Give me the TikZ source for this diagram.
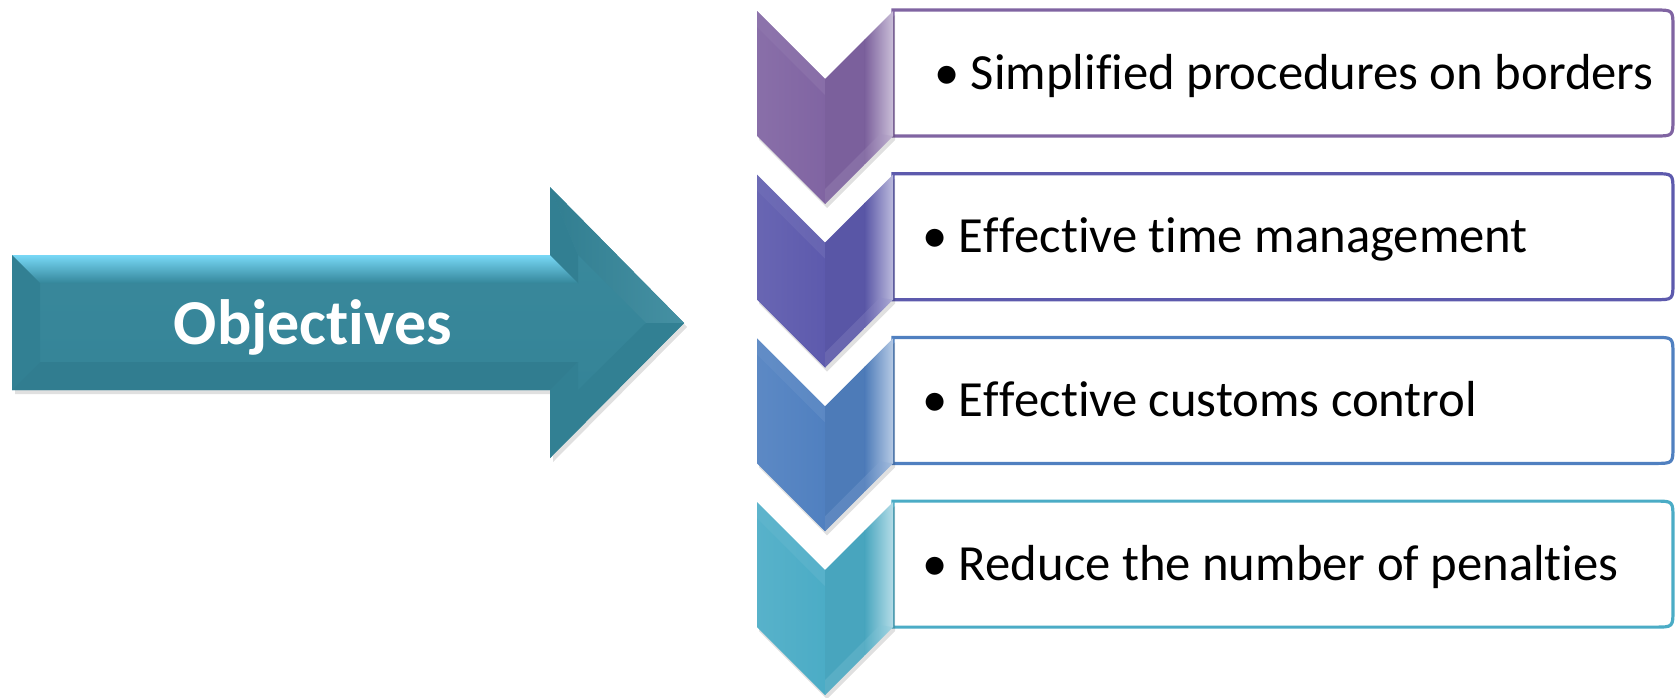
\documentclass[tikz,border=0pt]{standalone}
\usepackage{fontspec}
\setmainfont{Carlito}[Ligatures={NoCommon,NoRequired,NoContextual}, Contextuals={NoAlternate}, RawFeature={-liga;-clig;-dlig;-calt;-rlig;-hlig}]
\newcommand{\zk}{\kern0pt }
\definecolor{cA}{HTML}{8064A2}
\definecolor{cB}{HTML}{5D5AAD}
\definecolor{cC}{HTML}{5080C0}
\definecolor{cD}{HTML}{4BACC6}
\definecolor{arBase}{HTML}{35879B}
\definecolor{arLight}{HTML}{78D8F6}
\tikzset{
  boxline/.style={line width=2.4pt, fill=white},
  itemtext/.style={anchor=base west, inner sep=0pt, font=\fontsize{38}{44}\selectfont, text=black},
  headtext/.style={anchor=base, inner sep=0pt, font=\fontsize{48}{56}\selectfont\bfseries, text=white},
}
% #1 = top y (px), #2 = colour
\newcommand{\mychevron}[2]{%
  \fill[black, opacity=0.12] (759,#1+4) -- (827,#1+72) -- (895,#1+4) -- (895,#1+129) -- (827,#1+197) -- (759,#1+129) -- cycle;
  \begin{scope}
    \clip (757,#1) -- (825,#1+68) -- (893,#1) -- (893,#1+125) -- (825,#1+193) -- (757,#1+125) -- cycle;
    \shade[left color=#2!93!white, right color=#2] (757,#1) rectangle (825.5,#1+193);
    \fill[#2!85!white, opacity=0.45] (757,#1) -- (825,#1+68) -- (825,#1+84) -- (767,#1+26) -- (757,#1+16) -- cycle;
    \fill[#2!96!black] (825,#1) rectangle (865,#1+193);
    \shade[left color=#2!96!black, right color=#2!42!white] (864.5,#1) rectangle (893,#1+193);
    \fill[#2!70!white, opacity=0.3] (893,#1+125) -- (825,#1+193) -- (825,#1+178) -- (880,#1+123) -- cycle;
  \end{scope}
}
% #1 = top y, #2 = colour
\newcommand{\mybox}[2]{%
  \draw[boxline, draw=#2] (893,#1) -- (1655,#1) .. controls (1673,#1) .. (1673,#1+18)
    -- (1673,#1+108) .. controls (1673,#1+126) .. (1655,#1+126) -- (893,#1+126) -- cycle;
}
\begin{document}
\begin{tikzpicture}[x=0.75pt, y=-0.75pt]
\useasboundingbox (0,0) rectangle (1677,697);

% ---- big arrow ----
\fill[black, opacity=0.12] (15,259) -- (553,259) -- (553,191) -- (687,327) -- (553,462) -- (553,394) -- (15,394) -- cycle;
\shade[top color=arBase!97!white, bottom color=arBase!96!black]
  (12,255) -- (550,255) -- (550,187) -- (684,323) -- (550,458) -- (550,390) -- (12,390) -- cycle;
% top body bevel
\shade[top color=arLight, bottom color=arBase] (12,255) -- (550,255) -- (578,283) -- (40,283) -- cycle;
% left bevel
\fill[arBase!95!black] (12,255) -- (40,283) -- (40,362) -- (12,390) -- cycle;
% bottom bevel
\fill[arBase!93!black] (12,390) -- (40,362) -- (578,362) -- (550,390) -- cycle;
% head base facets
\fill[arBase!94!black] (550,255) -- (550,187) -- (578,255) -- (578,283) -- cycle;
\fill[arBase!95!black] (550,390) -- (550,458) -- (578,390) -- (578,362) -- cycle;
% head diagonal facets
\shade[left color=arBase!93!black, right color=arBase!92!white] (550,187) -- (684,323) -- (646,323) -- (578,255) -- cycle;
\fill[arBase!95!black] (550,458) -- (684,323) -- (646,323) -- (578,390) -- cycle;
\node[headtext] (obj) at (313,344) {Objec\zk t\zk ives};

% ---- boxes ----
\mybox{10}{cA}
\mybox{173.7}{cB}
\mybox{337.4}{cC}
\mybox{501.1}{cD}

% ---- chevrons ----
\mychevron{11}{cA}
\mychevron{174.7}{cB}
\mychevron{338.4}{cC}
\mychevron{502.1}{cD}

% ---- texts ----
\node[itemtext] (t1) at (934,89) {• Simpli\zk f\zk ied procedures on borders};
\node[itemtext] (t2) at (922,252.7) {• E\zk f\zk f\zk ec\zk t\zk ive time management};
\node[itemtext] (t3) at (922,416.4) {• E\zk f\zk f\zk ec\zk t\zk ive customs control};
\node[itemtext] (t4) at (922,580.1) {• Reduce the number of penal\zk t\zk ies};
\end{tikzpicture}
\end{document}
